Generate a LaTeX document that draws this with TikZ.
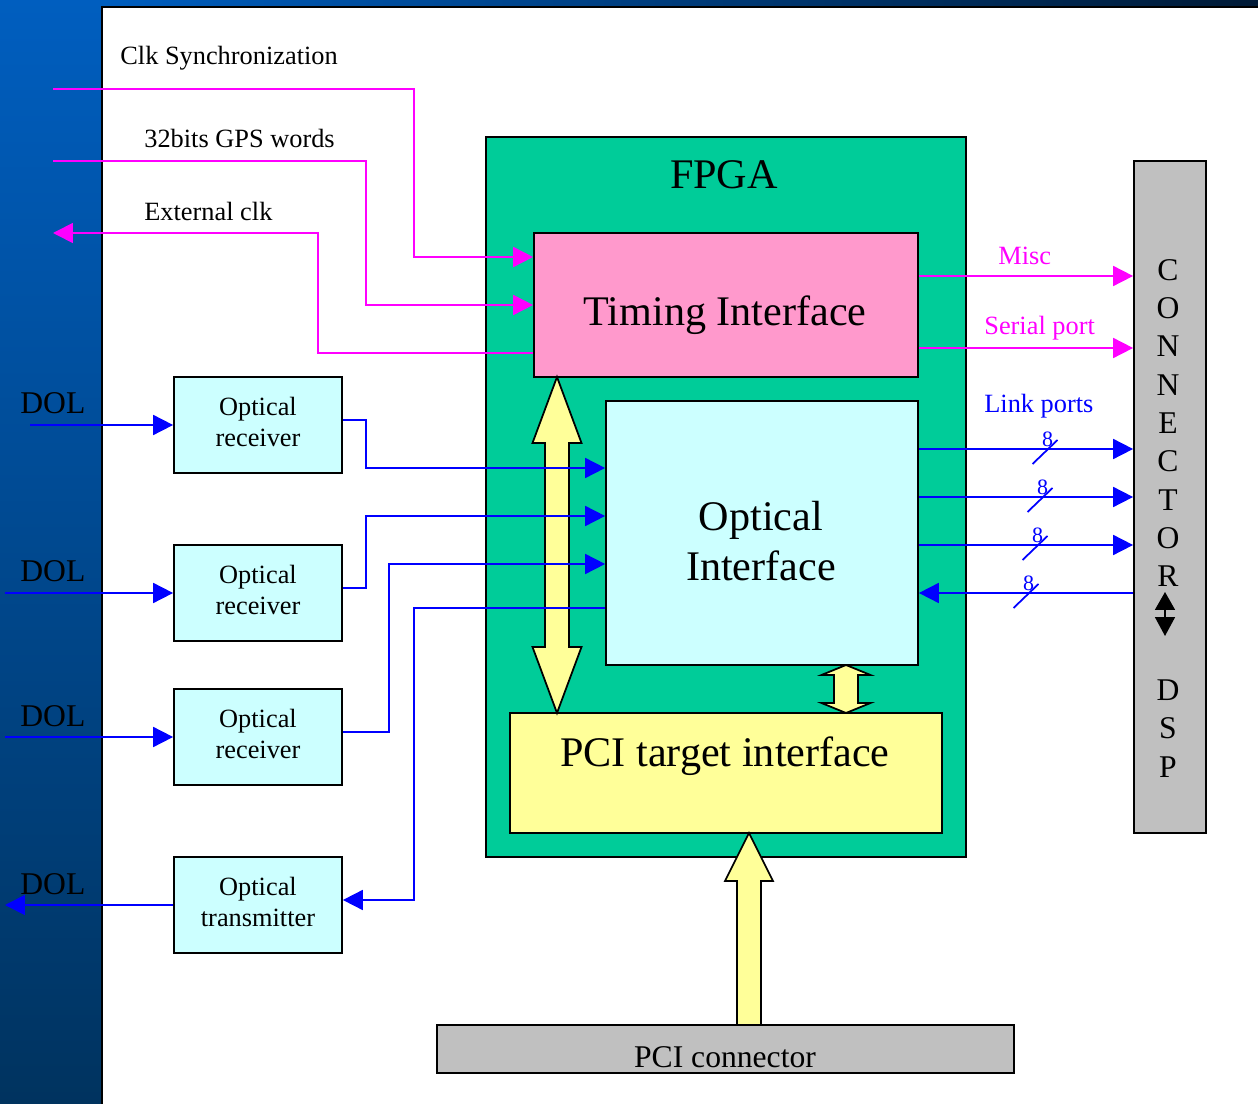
\documentclass[tikz,border=0pt]{standalone}
\usepackage{fontspec}
\setmainfont{Liberation Serif}
\usetikzlibrary{arrows.meta}

\definecolor{slideblue}{HTML}{005EBF}
\definecolor{slidedeep}{HTML}{00335F}
\definecolor{slidenight}{HTML}{001A36}
\definecolor{fpgagreen}{HTML}{00CC99}
\definecolor{timingpink}{HTML}{FF99CC}
\definecolor{opticcyan}{HTML}{CCFFFF}
\definecolor{pciyellow}{HTML}{FFFF99}
\definecolor{conngray}{HTML}{C0C0C0}
\definecolor{sigmagenta}{HTML}{FF00FF}
\definecolor{sigblue}{HTML}{0000FF}

\begin{document}
\begin{tikzpicture}[x=0.02cm,y=-0.02cm,
    blockbox/.style={draw,line width=1pt,rectangle,inner sep=0pt},
    rxbox/.style={blockbox,fill=opticcyan,minimum width=3.36cm,minimum height=1.92cm,smalltxt,align=center,text depth=0.14cm},
    sigtip/.style={-{Triangle[length=0.4cm,width=0.4cm]}},
    magsig/.style={draw=sigmagenta,line width=1pt,sigtip},
    bluesig/.style={draw=sigblue,line width=1pt,sigtip},
    bus/.style={draw,line width=1pt,fill=pciyellow},
    smalltxt/.style={font=\fontsize{15}{17.6}\selectfont,inner sep=0pt},
    midtxt/.style={font=\fontsize{18}{21}\selectfont,inner sep=0pt},
    bigtxt/.style={font=\fontsize{24}{28.9}\selectfont,inner sep=0pt}]
        \useasboundingbox (0,0) rectangle (1258,1104);
        % slide background
        \shade[top color=slideblue,bottom color=slidedeep] (0,0) rectangle (102,1104);
        \shade[left color=slideblue,right color=slidenight] (102,0) rectangle (1258,7);
        \fill[white] (102,7) rectangle (1258,1104);
        \draw[line width=1pt] (102,1104) -- (102,7) -- (1258,7);

        % FPGA and its blocks
        \node[blockbox,fill=fpgagreen,minimum width=9.6cm,minimum height=14.4cm] (fpga) at (726,497) {};
        \node[bigtxt,anchor=base] (fpgalbl) at (724,189) {FPGA};
        \node[blockbox,fill=timingpink,minimum width=7.68cm,minimum height=2.88cm] (timing) at (726,305) {};
        \node[bigtxt,anchor=base] (timinglbl) at (725,326) {Timing Interface};
        \node[blockbox,fill=opticcyan,minimum width=6.24cm,minimum height=5.28cm] (optint) at (762,533) {};
        \node[bigtxt,align=center] (optintlbl) at (761,541) {Optical\\Interface};
        \node[blockbox,fill=pciyellow,minimum width=8.64cm,minimum height=2.4cm] (pcit) at (726,773) {};
        \node[bigtxt,anchor=base] (pcitlbl) at (725,766) {PCI target interface};

        % fat buses
        \draw[bus] (557,377) -- (581.5,443) -- (569,443) -- (569,647) -- (581.5,647) -- (557,713)
            -- (532.5,647) -- (545,647) -- (545,443) -- (532.5,443) -- cycle;
        \draw[bus] (846,665) -- (870.5,675) -- (858,675) -- (858,703) -- (870.5,703) -- (846,713)
            -- (821.5,703) -- (834,703) -- (834,675) -- (821.5,675) -- cycle;
        \draw[bus] (749,833) -- (773,881) -- (761,881) -- (761,1025) -- (737,1025) -- (737,881) -- (725,881) -- cycle;

        % connectors
        \node[blockbox,fill=conngray,minimum width=11.54cm,minimum height=0.96cm] (pcicon) at (725.5,1049) {};
        \node[midtxt,anchor=base] (pciconlbl) at (725,1067) {PCI connector};
        \node[blockbox,fill=conngray,minimum width=1.44cm,minimum height=13.44cm] (conn) at (1170,497) {};
        \foreach \ch [count=\i] in {C,O,N,N,E,C,T,O,R}
            \node[midtxt] (connch\i) at (1168,{270+38.3*(\i-1)}) {\ch};
        \foreach \ch [count=\i] in {D,S,P}
            \node[midtxt] (dspch\i) at (1168,{690+38.5*(\i-1)}) {\ch};
        \draw[line width=1pt,{Triangle[length=0.36cm,width=0.4cm]}-{Triangle[length=0.38cm,width=0.4cm]}] (1165,592) -- (1165,636);

        % optical links
        \node[rxbox] (rx1) at (258,425) {Optical\\receiver};
        \node[rxbox] (rx2) at (258,593) {Optical\\receiver};
        \node[rxbox] (rx3) at (258,737) {Optical\\receiver};
        \node[rxbox] (tx) at (258,905) {Optical\\transmitter};
        \foreach \y [count=\i] in {414,582,726,894}
            \node[midtxt,anchor=base west] (dol\i) at (20,\y) {DOL};

        % labels
        \node[smalltxt,anchor=base west] (clklbl) at (120,65) {Clk Synchronization};
        \node[smalltxt,anchor=base west] (gpslbl) at (144,148) {32bits GPS words};
        \node[smalltxt,anchor=base west] (extlbl) at (144,221) {External clk};
        \node[smalltxt,anchor=base west,text=sigmagenta] (misclbl) at (998,265) {Misc};
        \node[smalltxt,anchor=base west,text=sigmagenta] (seriallbl) at (984,335) {Serial port};
        \node[smalltxt,anchor=base west,text=sigblue] (linklbl) at (984,413) {Link ports};

        \coordinate (clkin) at (53,89);
        \coordinate (gpsin) at (53,161);
        \coordinate (extout) at (53,233);
        \coordinate (dolin1) at (30,425);
        \coordinate (dolin2) at (5,593);
        \coordinate (dolin3) at (5,737);
        \coordinate (dolout) at (5,905);

        % timing signals
        \draw[magsig] (clkin) -| (414,257) -- (timing.west |- 0,257);
        \draw[magsig] (gpsin) -| (366,305) -- (timing.west |- 0,305);
        \draw[magsig] (timing.west |- 0,353) -| (318,233) -- (extout);
        \draw[magsig] (timing.east |- 0,276) -- (conn.west |- 0,276);
        \draw[magsig] (timing.east |- 0,348) -- (conn.west |- 0,348);

        % data signals
        \draw[bluesig] (dolin1) -- (rx1.west);
        \draw[bluesig] (dolin2) -- (rx2.west);
        \draw[bluesig] (dolin3) -- (rx3.west);
        \draw[bluesig] (tx.west) -- (dolout);
        \draw[bluesig] (rx1.east |- 0,420) -- (366,420) |- (optint.west |- 0,468);
        \draw[bluesig] (rx2.east |- 0,588) -- (366,588) |- (optint.west |- 0,516);
        \draw[bluesig] (rx3.east |- 0,732) -- (389,732) |- (optint.west |- 0,564);
        \draw[bluesig] (optint.west |- 0,608) -| (414,900) -- (tx.east |- 0,900);
        \foreach \y in {449,497,545}
            \draw[bluesig] (optint.east |- 0,\y) -- (conn.west |- 0,\y);
        \draw[bluesig] (conn.west |- 0,593) -- (optint.east |- 0,593);
        \foreach \y/\x [count=\i] in {449/1045,497/1040,545/1035,593/1026}{
            \draw[draw=sigblue,line width=1pt] (\x-12.5,\y+15) -- (\x+12.5,\y-9);
            \node[font=\fontsize{12.5}{14}\selectfont,text=sigblue,inner sep=0pt] (bits\i) at (\x+2.5,\y-10) {8};
        }
    \end{tikzpicture}
\end{document}
